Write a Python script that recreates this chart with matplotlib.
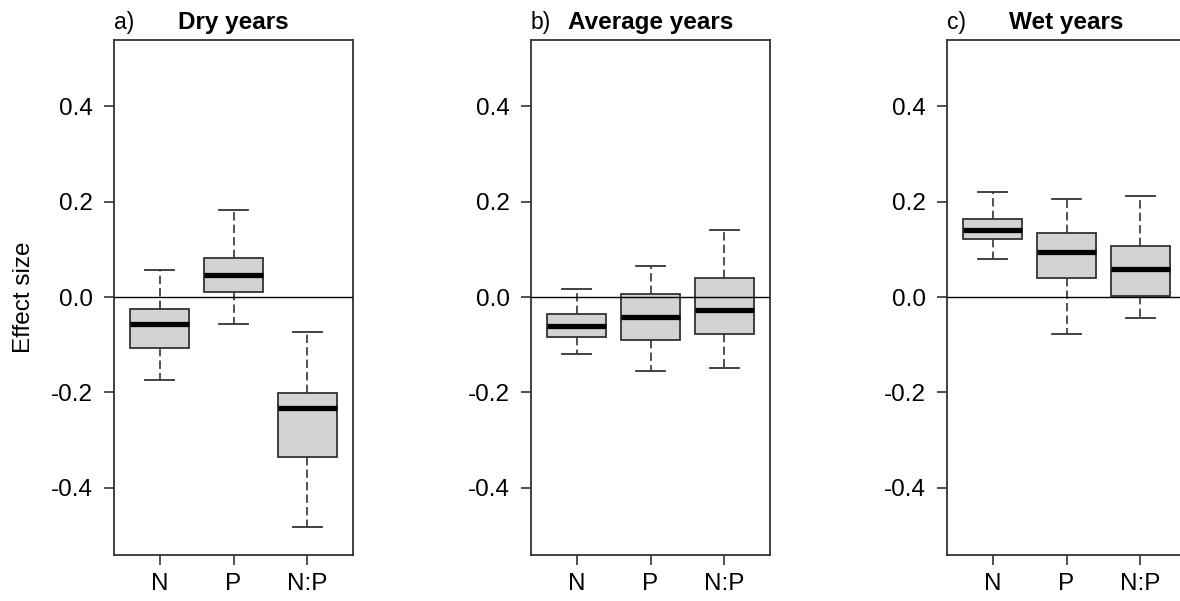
import matplotlib
matplotlib.use('Agg')
import matplotlib.pyplot as plt

plt.rcParams['font.family'] = ['Liberation Sans', 'DejaVu Sans']
plt.rcParams['axes.unicode_minus'] = False

groups = ['N', 'P', 'N:P']
panels = ['a)', 'b)', 'c)']
titles = ['Dry years', 'Average years', 'Wet years']

# one row per panel, columns N, P, N:P
whislo = [[-0.174, -0.057, -0.483], [-0.120, -0.155, -0.148], [0.079, -0.078, -0.045]]
q1 = [[-0.106, 0.010, -0.336], [-0.083, -0.090, -0.077], [0.121, 0.040, 0.002]]
med = [[-0.057, 0.046, -0.233], [-0.061, -0.041, -0.028], [0.141, 0.095, 0.059]]
q3 = [[-0.026, 0.082, -0.201], [-0.035, 0.006, 0.039], [0.163, 0.134, 0.108]]
whishi = [[0.057, 0.183, -0.074], [0.017, 0.065, 0.140], [0.221, 0.205, 0.211]]
yticks = [-0.4, -0.2, 0.0, 0.2, 0.4]

fig = plt.figure(figsize=(11.8, 6.01), dpi=100)
lefts = [114 / 1180, 531 / 1180, 947 / 1180]
edge = '#333333'

for i in range(3):
    ax = fig.add_axes([lefts[i], 46 / 601, 239 / 1180, 515 / 601])
    stats = []
    for j in range(3):
        stats.append(dict(label=groups[j], whislo=whislo[i][j], q1=q1[i][j],
                          med=med[i][j], q3=q3[i][j], whishi=whishi[i][j]))
    ax.bxp(stats, positions=[1, 2, 3], widths=0.8, patch_artist=True,
           showfliers=False, capwidths=0.4,
           boxprops=dict(facecolor='#d3d3d3', edgecolor=edge, linewidth=1.3),
           medianprops=dict(color='black', linewidth=3.8, solid_capstyle='butt'),
           whiskerprops=dict(color=edge, linestyle=(0, (5, 2.5)), linewidth=1.2),
           capprops=dict(color=edge, linewidth=1.3))
    ax.axhline(0, color='black', lw=1, zorder=5)
    ax.set_xlim(0.38, 3.62)
    ax.set_ylim(-0.541, 0.539)
    ax.set_yticks(yticks)
    ax.set_yticklabels(['%.1f' % v for v in yticks])
    ax.set_xticks([1, 2, 3])
    ax.set_xticklabels(groups)
    ax.tick_params(labelsize=17.5, length=7, width=1.2, color=edge, pad=6)
    ax.tick_params(axis='y', pad=8)
    for s in ax.spines.values():
        s.set_color(edge)
        s.set_linewidth(1.3)
    ax.set_title(titles[i], fontsize=17.5, fontweight='bold', pad=5)
    ax.set_title(panels[i], fontsize=16.5, loc='left', pad=8)

fig.text(24 / 1180, 0.505, 'Effect size', rotation=90, ha='center', va='center',
         fontsize=17.5)

fig.savefig('out.png', dpi=100)
